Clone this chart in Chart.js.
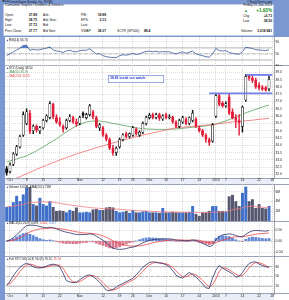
<!DOCTYPE html>
<html>
<head>
<meta charset="utf-8">
<script src="https://cdn.jsdelivr.net/npm/chart.js@4.4.1/dist/chart.umd.min.js"></script>
<style>
  html, body { margin: 0; padding: 0; }
  #wrap { position: relative; width: 289px; height: 300px; overflow: hidden; background: #7c98d3;
          font-family: "Liberation Sans", Arial, sans-serif; color: #111; }
  .bx { position: absolute; }
  .t { position: absolute; white-space: nowrap; font-size: 3.3px; line-height: 1; transform: translateY(-50%); }
  .r { transform: translate(-100%, -50%); }
  canvas { position: absolute; left: 5px; }
</style>
</head>
<body>
<div id="wrap">
  <!-- header box -->
  <div class="bx" style="left:3px;top:4px;width:271px;height:32px;background:#fff;box-shadow:inset 0 0 0 0.6px #8ea2cb"></div>
  <span class="t" style="left:2px;top:2.2px;font-weight:bold;font-size:3.8px">STZ</span>
  <span class="t" style="left:9px;top:2.2px;font-size:3px">Constellation Brands, Inc. NYSE</span>
  <span class="t r" style="left:272px;top:2.2px;font-size:3px">&copy;StockCharts.com</span>

  <span class="t" style="left:5px;top:6.2px">Consumer Staples / Distillers &amp; Vintners</span>
  <span class="t r" style="left:272px;top:6.2px">Friday 25-Jan-2013</span>
  <span class="t" style="left:244px;top:11.2px;color:#1c8c1c;font-size:4px">&#9650;</span>
  <span class="t r" style="left:272px;top:11.2px;color:#1c8c1c;font-size:4.6px;font-weight:bold">+1.93%</span>

  <span class="t" style="left:5px;top:15.5px">Open:</span>
  <span class="t r" style="left:37px;top:15.5px;font-weight:bold">37.88</span>
  <span class="t" style="left:43px;top:15.5px">Ask:</span>
  <span class="t" style="left:81px;top:15.5px">P/E:</span>
  <span class="t r" style="left:106px;top:15.5px;font-weight:bold">18.88</span>
  <span class="t" style="left:243px;top:16.5px">Chg</span>
  <span class="t r" style="left:272px;top:16.5px;font-weight:bold">+0.73</span>

  <span class="t" style="left:5px;top:21px">High:</span>
  <span class="t r" style="left:37px;top:21px;font-weight:bold">38.75</span>
  <span class="t" style="left:43px;top:21px">Ask Size:</span>
  <span class="t" style="left:81px;top:21px">EPS:</span>
  <span class="t r" style="left:106px;top:21px;font-weight:bold">2.13</span>
  <span class="t" style="left:243px;top:21.5px">Last</span>
  <span class="t r" style="left:272px;top:21.5px;font-weight:bold">38.50</span>

  <span class="t" style="left:5px;top:26.3px">Low:</span>
  <span class="t r" style="left:37px;top:26.3px;font-weight:bold">37.72</span>
  <span class="t" style="left:43px;top:26.3px">Bid:</span>
  <span class="t" style="left:81px;top:26.3px">Last:</span>

  <span class="t" style="left:5px;top:31.7px">Prev Close:</span>
  <span class="t r" style="left:37px;top:31.7px;font-weight:bold">37.77</span>
  <span class="t" style="left:43px;top:31.7px">Bid Size:</span>
  <span class="t" style="left:81px;top:31.7px">VWAP:</span>
  <span class="t r" style="left:106px;top:31.7px;font-weight:bold">38.37</span>
  <span class="t" style="left:117px;top:31.7px">SCTR (SP500):</span>
  <span class="t" style="left:144px;top:31.7px;font-weight:bold">88.4</span>
  <span class="t" style="left:241px;top:31.7px">Volume:</span>
  <span class="t r" style="left:272px;top:31.7px;font-weight:bold">3,018,941</span>

  <!-- panels -->
  <div class="bx" style="left:5px;top:37px;width:284px;height:263px;background:#fff"></div>
  <div class="bx" style="left:5px;top:178px;width:269px;height:6px;background:#e8edf6"></div>
  <div class="bx" style="left:5px;top:293px;width:269px;height:7px;background:#e8edf6"></div>
  <div class="bx" style="left:5px;top:65px;width:284px;height:0.8px;background:#9aa3b5"></div>
  <div class="bx" style="left:5px;top:178px;width:284px;height:0.8px;background:#9aa3b5"></div>
  <div class="bx" style="left:5px;top:184px;width:284px;height:0.8px;background:#9aa3b5"></div>
  <div class="bx" style="left:5px;top:221px;width:284px;height:0.8px;background:#9aa3b5"></div>
  <div class="bx" style="left:5px;top:256px;width:284px;height:0.8px;background:#9aa3b5"></div>
  <div class="bx" style="left:5px;top:293px;width:284px;height:0.8px;background:#9aa3b5"></div>

  <canvas id="cRsi" width="284" height="29" style="top:37px"></canvas>
  <canvas id="cPrice" width="284" height="119" style="top:65px"></canvas>
  <canvas id="cVol" width="284" height="37" style="top:184px"></canvas>
  <canvas id="cMacd" width="284" height="35" style="top:221px"></canvas>
  <canvas id="cSto" width="284" height="44" style="top:256px"></canvas>

  <!-- panel captions -->
  <span class="t" style="left:6px;top:39.6px;font-size:3px"><span style="color:#3a5a9a">&#9650;</span>RSI(14) 63.74</span>
  <span class="t" style="left:6px;top:68.4px;font-size:3px"><span style="color:#3a5a9a">&#9650;</span>STZ (Daily) 38.50</span>
  <span class="t" style="left:6px;top:72.2px;font-size:3px;color:#3c8c3c">&mdash; MA(50) 36.76</span>
  <span class="t" style="left:6px;top:76px;font-size:3px;color:#e05050">&mdash; MA(200) 35.85</span>
  <div class="bx" style="left:108px;top:75px;width:56px;height:8px;background:#fff;box-shadow:inset 0 0 0 0.7px #7b8fd8"></div>
  <span class="t" style="left:110px;top:79px;font-size:3.4px;font-weight:bold;color:#2b3fd0">38.82 break out watch.</span>
  <span class="t" style="left:6px;top:186.5px;font-size:3px"><span style="color:#3a5a9a">&#9650;</span>Volume 3.02M, EMA(20) 2.72M</span>
  <span class="t" style="left:6px;top:223.4px;font-size:3px"><span style="color:#3a5a9a">&#9650;</span>MACD(12,26,9) 0.478, <span style="color:#e03c3c">0.361</span>, <span style="color:#4f78c8">0.117</span></span>
  <span class="t" style="left:6px;top:259.4px;font-size:3px"><span style="color:#3a5a9a">&#9650;</span>Full STO %K(14,3) %D(3) 79.12, <span style="color:#e03c3c">76.74</span></span>
</div>

<script>
// trading days, Sep 28 2012 .. Jan 28 2013 (last slot is empty)
const days = ['09-28',
  '10-01','10-02','10-03','10-04','10-05','10-08','10-09','10-10','10-11','10-12',
  '10-15','10-16','10-17','10-18','10-19','10-22','10-23','10-24','10-25','10-26','10-31',
  '11-01','11-02','11-05','11-06','11-07','11-08','11-09','11-12','11-13','11-14','11-15','11-16',
  '11-19','11-20','11-21','11-23','11-26','11-27','11-28','11-29','11-30',
  '12-03','12-04','12-05','12-06','12-07','12-10','12-11','12-12','12-13','12-14',
  '12-17','12-18','12-19','12-20','12-21','12-24','12-26','12-27','12-28','12-31',
  '01-02','01-03','01-04','01-07','01-08','01-09','01-10','01-11',
  '01-14','01-15','01-16','01-17','01-18','01-22','01-23','01-24','01-25','01-28'];

const weekDays = ['10-01','10-08','10-15','10-22','11-01','11-12','11-19','11-26','12-03','12-10','12-17','12-24','01-02','01-07','01-14','01-22','01-28'];
const weekText = ['Oct','8','15','22','Nov','12','19','26','Dec','10','17','24','2013','7','14','22','28'];

const open = [32.4,32.2,32.7,33.4,33.9,34.7,35.5,36.2,35.0,35.3,
  35.0,35.2,35.7,35.9,36.8,35.9,35.6,35.3,35.2,35.7,
  35.9,35.6,35.5,36.2,35.9,36.1,36.3,35.9,35.2,35.2,
  34.7,34.4,33.8,33.5,33.9,34.4,34.8,34.6,34.7,35.1,
  34.7,34.9,35.5,35.9,36.1,35.9,36.1,35.8,36.1,35.9,
  35.95,35.6,35.3,35.6,35.8,35.5,35.7,35.8,35.2,35.0,
  34.7,34.4,34.3,36.0,37.4,36.9,36.7,37.3,36.3,35.9,
  35.7,35.3,37.1,38.8,38.6,38.45,38.1,37.95,37.95,37.88];
const high = [32.55,32.8,33.5,34.0,34.7,36.3,36.5,36.4,35.4,35.4,
  35.3,35.8,36.1,37.0,36.9,36.1,35.9,35.4,35.8,36.1,
  36.0,35.8,36.0,36.3,36.2,36.8,36.4,36.0,35.5,35.3,
  34.8,34.5,34.0,33.9,34.5,34.8,34.9,34.85,35.3,35.2,
  35.0,35.6,36.0,36.2,36.2,36.2,36.2,36.1,36.2,36.1,
  36.0,35.7,35.8,36.0,35.9,35.95,36.4,35.9,35.3,35.1,
  34.8,34.5,35.5,37.55,37.5,37.0,37.0,37.5,36.5,36.1,
  36.1,36.7,38.85,38.85,38.8,38.6,38.3,38.1,38.05,38.75];
const low = [31.95,32.1,32.6,33.3,33.8,34.6,35.4,34.8,34.8,34.9,
  34.8,35.1,35.6,35.8,35.8,35.5,35.3,34.9,35.1,35.6,
  35.5,35.3,35.4,35.9,35.8,36.0,35.8,35.2,35.0,34.6,
  34.3,33.7,33.3,33.3,33.8,34.3,34.5,34.5,34.6,34.7,
  34.6,34.8,35.4,35.8,35.8,35.8,35.7,35.7,35.8,35.8,
  35.5,35.2,35.2,35.5,35.4,35.4,35.6,35.2,34.9,34.6,
  34.2,34.0,34.2,35.9,36.7,36.6,36.6,36.1,35.8,35.2,
  34.7,34.9,37.0,38.45,38.3,37.9,37.8,37.75,37.7,37.72];
const close = [32.1,32.65,33.4,33.9,34.6,36.1,36.3,34.95,35.3,35.05,
  35.2,35.7,36.0,36.85,35.95,35.6,35.4,35.1,35.7,35.95,
  35.6,35.45,35.9,36.05,36.1,36.7,35.95,35.3,35.4,34.7,
  34.4,33.8,33.5,33.8,34.4,34.7,34.6,34.8,35.2,34.8,
  34.9,35.5,35.9,36.05,35.9,36.1,35.85,36.0,35.9,35.95,
  35.6,35.3,35.7,35.9,35.5,35.9,36.2,35.3,35.0,34.7,
  34.4,34.2,35.4,37.4,36.8,36.7,36.85,36.2,35.9,35.7,
  35.55,36.6,38.7,38.6,38.45,38.0,37.95,37.85,37.77,38.5];

const ma50 = [32.86,32.93,33.0,33.07,33.14,33.2,33.27,33.39,33.5,33.62,
  33.76,33.89,34.03,34.17,34.3,34.44,34.6,34.76,34.92,35.06,
  35.2,35.33,35.43,35.52,35.6,35.63,35.66,35.67,35.66,35.63,
  35.6,35.55,35.5,35.46,35.42,35.37,35.33,35.28,35.24,35.19,
  35.17,35.14,35.12,35.11,35.1,35.09,35.09,35.09,35.09,35.1,
  35.11,35.12,35.14,35.16,35.19,35.21,35.23,35.26,35.28,35.3,
  35.33,35.37,35.42,35.46,35.53,35.6,35.67,35.76,35.85,35.94,
  36.03,36.12,36.22,36.3,36.38,36.46,36.54,36.62,36.69,36.76];
const ma200 = [31.45,31.55,31.65,31.75,31.85,31.95,32.05,32.15,32.25,32.35,
  32.45,32.54,32.63,32.72,32.81,32.9,33.0,33.08,33.16,33.24,
  33.32,33.4,33.48,33.55,33.62,33.69,33.76,33.83,33.9,33.96,
  34.03,34.09,34.16,34.23,34.29,34.35,34.41,34.47,34.53,34.59,
  34.64,34.7,34.75,34.8,34.85,34.9,34.95,35.0,35.05,35.1,
  35.15,35.2,35.22,35.24,35.26,35.28,35.3,35.32,35.34,35.36,
  35.38,35.4,35.42,35.45,35.48,35.51,35.54,35.57,35.6,35.62,
  35.64,35.66,35.68,35.7,35.72,35.75,35.78,35.8,35.83,35.85];

const priceTicks = [32.0,32.5,33.0,33.5,34.0,34.5,35.0,35.5,36.0,36.5,37.0,37.5,38.0,38.5,39.0,39.5];
const breakLevel = [38.82, 37.55];
const breakFrom = ['01-15', '12-28'];

const rsi = [45,50,57,63,69,78,79,62,65,63,
  64,67,69,73,63,60,58,55,60,62,
  58,57,61,62,62,67,58,50,51,44,
  41,39,38,38,44,47,46,48,52,48,
  50,55,58,59,57,59,56,58,57,57,
  53,50,54,57,52,56,59,50,47,44,
  41,39,50,68,61,60,61,55,52,50,
  49,58,72,70,68,64,63,62,61,63.74];
const rsiLevels = [70, 50, 30];
const rsiTicks = [10, 30, 50, 70, 90];

const volume = [2.8,2.9,3.8,5.1,4.0,5.4,6.8,6.9,3.4,3.1,
  4.7,3.4,3.1,4.0,2.8,2.0,2.1,2.0,1.7,2.2,
  2.0,2.7,1.7,1.7,1.8,1.7,2.3,2.4,2.2,2.2,
  2.7,2.8,2.7,2.0,1.7,1.8,2.0,1.6,2.2,1.7,
  1.7,1.9,2.0,1.7,1.7,1.7,1.6,2.6,1.7,1.7,
  1.8,1.7,1.7,1.7,1.7,1.8,3.0,1.4,1.0,1.7,
  1.7,2.0,3.0,3.0,2.0,2.0,1.9,5.0,5.3,4.0,
  3.0,5.7,7.0,4.0,4.4,2.6,3.4,2.6,2.5,3.02];
const volEma = [3.0,3.0,3.05,3.2,3.3,3.4,3.6,3.8,3.8,3.85,
  3.95,3.95,3.9,3.9,3.85,3.75,3.65,3.5,3.4,3.3,
  3.2,3.15,3.05,2.95,2.85,2.75,2.7,2.65,2.6,2.57,
  2.55,2.55,2.5,2.45,2.4,2.35,2.3,2.25,2.2,2.15,
  2.1,2.08,2.05,2.0,1.98,1.95,1.92,1.9,1.88,1.86,
  1.84,1.82,1.8,1.8,1.78,1.78,1.8,1.78,1.74,1.72,
  1.72,1.75,1.8,1.85,1.85,1.87,1.88,2.1,2.3,2.45,
  2.5,2.7,2.95,3.0,3.05,2.95,2.9,2.82,2.76,2.72];
const volTicks = [2, 4, 6];

const macd = [0.0,0.05,0.15,0.28,0.42,0.58,0.70,0.72,0.72,0.70,
  0.66,0.62,0.60,0.63,0.60,0.55,0.50,0.44,0.40,0.37,
  0.33,0.30,0.29,0.30,0.29,0.33,0.30,0.22,0.13,0.03,
  -0.08,-0.22,-0.32,-0.36,-0.38,-0.37,-0.34,-0.30,-0.28,-0.23,
  -0.16,-0.08,-0.02,0.03,0.06,0.08,0.09,0.10,0.10,0.10,
  0.08,0.04,0.03,0.03,0.01,0.02,0.05,0.03,-0.03,-0.10,
  -0.18,-0.25,-0.20,0.05,0.20,0.28,0.30,0.33,0.30,0.25,
  0.20,0.19,0.30,0.40,0.46,0.48,0.47,0.46,0.45,0.478];
const signal = [0.0,0.01,0.04,0.09,0.15,0.24,0.33,0.41,0.47,0.52,
  0.55,0.56,0.57,0.58,0.59,0.58,0.56,0.54,0.51,0.48,
  0.45,0.42,0.39,0.37,0.36,0.35,0.34,0.32,0.28,0.23,
  0.17,0.09,0.01,-0.06,-0.12,-0.17,-0.20,-0.22,-0.23,-0.23,
  -0.22,-0.19,-0.16,-0.12,-0.08,-0.05,-0.02,0.00,0.02,0.04,
  0.05,0.05,0.05,0.04,0.04,0.04,0.04,0.04,0.03,0.00,
  -0.04,-0.08,-0.10,-0.07,-0.02,0.04,0.08,0.13,0.17,0.19,
  0.20,0.20,0.22,0.25,0.28,0.31,0.33,0.34,0.35,0.361];
const hist = [0.0,0.04,0.11,0.19,0.27,0.34,0.37,0.31,0.25,0.18,
  0.11,0.06,0.03,0.05,0.01,-0.03,-0.06,-0.10,-0.11,-0.11,
  -0.12,-0.12,-0.10,-0.07,-0.07,-0.02,-0.04,-0.10,-0.15,-0.20,
  -0.25,-0.31,-0.33,-0.30,-0.26,-0.20,-0.14,-0.08,-0.05,0.00,
  0.06,0.11,0.14,0.15,0.14,0.13,0.11,0.10,0.08,0.06,
  0.03,-0.01,-0.02,-0.01,-0.03,-0.02,0.01,-0.01,-0.06,-0.10,
  -0.14,-0.17,-0.10,0.12,0.22,0.24,0.22,0.20,0.13,0.06,
  0.00,-0.01,0.08,0.15,0.18,0.17,0.14,0.12,0.10,0.117];
const macdTicks = [-0.5, -0.25, 0, 0.25, 0.5, 0.75];

const stoK = [22,35,52,66,78,86,91,86,80,77,
  76,78,82,86,88,85,80,60,37,33,
  31,32,40,47,53,55,50,42,32,20,
  8,6,10,17,24,28,34,39,44,55,
  66,78,86,93,95,93,91,90,86,80,
  68,54,48,45,55,62,56,48,38,27,
  15,13,45,69,83,76,70,64,58,48,
  50,62,78,90,94,95,88,84,80,79.12];
const stoD = [25,28,38,51,65,77,85,88,86,81,
  78,77,79,82,85,86,84,75,59,43,
  34,32,34,40,47,52,53,49,41,31,
  20,11,8,11,17,23,29,34,39,46,
  55,66,77,86,91,94,93,91,89,85,
  78,67,57,49,49,54,58,55,47,38,
  27,18,24,42,66,76,76,70,64,57,
  52,53,63,77,87,93,92,89,84,76.74];
const stoLevels = [80, 50, 20];
const stoTicks = [20, 50, 80];

// ---------- shared options ----------
const FONT = { family: '"Liberation Sans", Arial, sans-serif', size: 3.3 };
const tickText = i => { const k = weekDays.indexOf(days[i]); return k < 0 ? '' : weekText[k]; };

function xScale(showLabels) {
  return {
    type: 'category',
    offset: true,
    grid: {
      offset: false, drawTicks: false, lineWidth: 0.7,
      color: c => tickText(c.index) ? '#c8c8c8' : 'rgba(0,0,0,0)'
    },
    border: { display: false, dash: [1, 1] },
    ticks: {
      display: showLabels, autoSkip: false, maxRotation: 0, padding: 0.5,
      font: FONT, color: '#222', callback: (v, i) => tickText(i)
    },
    afterFit: s => { s.height = showLabels ? 6 : 0; s.paddingLeft = 0; s.paddingRight = 0; }
  };
}

function yScale(min, max, vals, fmt) {
  return {
    position: 'right', min: min, max: max,
    afterBuildTicks: s => { s.ticks = vals.map(v => ({ value: v })); },
    grid: { drawTicks: false, color: '#d3d3d3', lineWidth: 0.7 },
    border: { display: true, color: '#8c8c8c', width: 0.8, dash: [1, 1] },
    ticks: { padding: 1.5, font: FONT, color: '#222', callback: fmt },
    afterFit: s => { s.width = 15; s.paddingTop = 0; s.paddingBottom = 0; }
  };
}

function baseOptions(x, y) {
  return {
    responsive: false, animation: false, devicePixelRatio: 1,
    layout: { padding: 0 },
    plugins: { legend: { display: false }, tooltip: { enabled: false } },
    scales: { x: x, y: y }
  };
}

function line(data, color, width, order, dash) {
  return { type: 'line', data: data, borderColor: color, borderWidth: width, pointRadius: 0,
           borderDash: dash || [], fill: false, order: order, spanGaps: false };
}

const levelLine = (lvl, dash) => line(days.map(() => lvl), '#909090', 0.7, 5, dash);

// candle colours: red when close < previous close, hollow when close > open
const candleColor = close.map((c, i) => (i > 0 && c < close[i - 1]) ? '#e2203c' : '#111');
const candleFill = close.map((c, i) => c > open[i] ? '#ffffff' : candleColor[i]);

// ---------- RSI ----------
new Chart(document.getElementById('cRsi'), {
  data: {
    labels: days,
    datasets: [
      { type: 'line', data: rsi, borderColor: '#3a5a9a', borderWidth: 0.8, pointRadius: 0, order: 1,
        fill: { target: { value: 70 }, above: '#5b7cc4', below: 'rgba(0,0,0,0)' } },
      { type: 'line', data: rsi, borderWidth: 0, pointRadius: 0, order: 2,
        fill: { target: { value: 30 }, above: 'rgba(0,0,0,0)', below: '#5b7cc4' } },
      levelLine(rsiLevels[0]),
      levelLine(rsiLevels[1], [3, 1, 1, 1]),
      levelLine(rsiLevels[2])
    ]
  },
  options: baseOptions(xScale(false), yScale(10, 106, rsiTicks, v => v))
});

// ---------- Price ----------
const breakSets = breakLevel.map((lvl, k) => {
  const from = days.indexOf(breakFrom[k]);
  return line(days.map((d, i) => i >= from ? lvl : null), '#7080e6', 1.8, 0);
});

new Chart(document.getElementById('cPrice'), {
  data: {
    labels: days,
    datasets: [
      line(ma200, '#ef6a6a', 0.8, 4),
      line(ma50, '#5c9f5c', 0.8, 4),
      { type: 'bar', data: low.map((l, i) => [l, high[i]]), backgroundColor: candleColor,
        barThickness: 0.8, grouped: false, order: 3 },
      { type: 'bar', data: open.map((o, i) => [o, close[i]]), backgroundColor: candleFill,
        borderColor: candleColor, borderWidth: 0.6, borderSkipped: false,
        barThickness: 2.3, grouped: false, order: 2 },
      ...breakSets
    ]
  },
  options: baseOptions(xScale(true), yScale(31.76, 39.5, priceTicks, v => v.toFixed(1)))
});

// ---------- Volume ----------
new Chart(document.getElementById('cVol'), {
  data: {
    labels: days,
    datasets: [
      { type: 'bar', data: volume, order: 2, barThickness: 2.3,
        backgroundColor: candleColor.map(c => c === '#111' ? '#3f6fc8' : '#55576e') },
      line(volEma, '#f07c84', 0.8, 1)
    ]
  },
  options: baseOptions(xScale(false), yScale(0, 7.6, volTicks, v => v + 'M'))
});

// ---------- MACD ----------
new Chart(document.getElementById('cMacd'), {
  data: {
    labels: days,
    datasets: [
      { type: 'bar', data: hist, order: 3, barThickness: 2.2,
        backgroundColor: hist.map(h => h >= 0 ? '#6489d6' : '#d9798f') },
      line(macd, '#2c2f6a', 0.8, 1),
      line(signal, '#ee4848', 0.8, 2),
      line(days.map(() => 0), '#a0a0a0', 0.6, 5, [3, 1, 1, 1])
    ]
  },
  options: baseOptions(xScale(false), yScale(-0.68, 0.91, macdTicks, v => v.toFixed(2)))
});

// ---------- Full Stochastic ----------
new Chart(document.getElementById('cSto'), {
  data: {
    labels: days,
    datasets: [
      line(stoK, '#2c2f6a', 0.8, 1),
      line(stoD, '#ee4848', 0.8, 2),
      levelLine(stoLevels[0]),
      levelLine(stoLevels[1], [3, 1, 1, 1]),
      levelLine(stoLevels[2])
    ]
  },
  options: baseOptions(xScale(true), yScale(-4, 113, stoTicks, v => v))
});
</script>
</body>
</html>
